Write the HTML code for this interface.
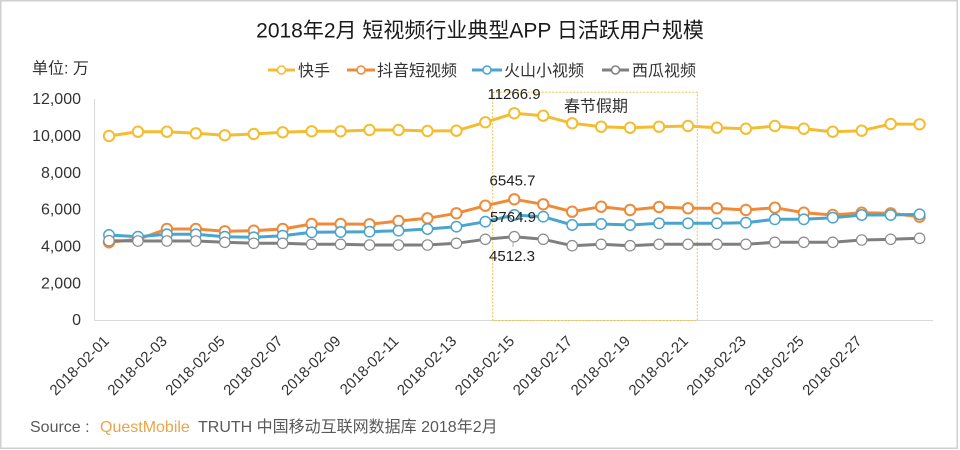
<!DOCTYPE html>
<html><head><meta charset="utf-8"><style>
html,body{margin:0;padding:0;background:#fff;}
svg{display:block;}
</style></head><body>
<svg width="960" height="450" viewBox="0 0 960 450" xmlns="http://www.w3.org/2000/svg" font-family="'Liberation Sans','Noto Sans CJK SC',sans-serif">
<defs>
<marker id="mY" viewBox="-7 -7 14 14" markerWidth="14" markerHeight="14" refX="0" refY="0" markerUnits="userSpaceOnUse"><circle r="5.2" fill="#fff" stroke="#F3BD2F" stroke-width="2"/></marker>
<marker id="mO" viewBox="-7 -7 14 14" markerWidth="14" markerHeight="14" refX="0" refY="0" markerUnits="userSpaceOnUse"><circle r="5.2" fill="#fff" stroke="#EE8B3A" stroke-width="2"/></marker>
<marker id="mB" viewBox="-7 -7 14 14" markerWidth="14" markerHeight="14" refX="0" refY="0" markerUnits="userSpaceOnUse"><circle r="5.2" fill="#fff" stroke="#4AA5CE" stroke-width="1.5"/></marker>
<marker id="mG" viewBox="-7 -7 14 14" markerWidth="14" markerHeight="14" refX="0" refY="0" markerUnits="userSpaceOnUse"><circle r="5.2" fill="#fff" stroke="#8a8a8a" stroke-width="1.2"/></marker>
</defs>
<rect x="0" y="0" width="960" height="450" fill="#fff"/>
<rect x="0.75" y="0.75" width="956.5" height="447.5" fill="none" stroke="#cfcfcf" stroke-width="1.5"/>

<text x="480" y="37.5" text-anchor="middle" font-size="21" fill="#1a1a1a">2018年2月 短视频行业典型APP 日活跃用户规模</text>

<text x="32" y="73.5" font-size="16" fill="#333">单位: 万</text>

<!-- legend -->
<g font-size="16" fill="#333">
<line x1="268" y1="70" x2="295" y2="70" stroke="#F3BD2F" stroke-width="3"/><circle cx="281.5" cy="70" r="4" fill="#fff" stroke="#F3BD2F" stroke-width="1.5"/>
<text x="298" y="76">快手</text>
<line x1="347" y1="70" x2="375" y2="70" stroke="#EE8B3A" stroke-width="3"/><circle cx="361" cy="70" r="4" fill="#fff" stroke="#EE8B3A" stroke-width="1.5"/>
<text x="377" y="76">抖音短视频</text>
<line x1="472" y1="70" x2="502" y2="70" stroke="#4AA5CE" stroke-width="3"/><circle cx="487" cy="70" r="4" fill="#fff" stroke="#4AA5CE" stroke-width="1.5"/>
<text x="504" y="76">火山小视频</text>
<line x1="602" y1="70" x2="629" y2="70" stroke="#7F7F7F" stroke-width="3"/><circle cx="615.5" cy="70" r="4" fill="#fff" stroke="#7F7F7F" stroke-width="1.5"/>
<text x="632" y="76">西瓜视频</text>
</g>

<!-- axes -->
<line x1="94.5" y1="99" x2="94.5" y2="320" stroke="#d9d9d9" stroke-width="1"/>
<line x1="94" y1="320.5" x2="933" y2="320.5" stroke="#d9d9d9" stroke-width="1"/>

<g font-size="16" fill="#333" text-anchor="end">
<text x="81" y="325.2">0</text>
<text x="81" y="288.4">2,000</text>
<text x="81" y="251.5">4,000</text>
<text x="81" y="214.7">6,000</text>
<text x="81" y="177.9">8,000</text>
<text x="81" y="141">10,000</text>
<text x="81" y="104.2">12,000</text>
</g>

<!-- holiday box -->
<rect x="492.7" y="92.3" width="204.6" height="228.2" fill="none" stroke="#F0C24A" stroke-width="1" stroke-dasharray="2,1.5"/>
<text x="564" y="111.5" font-size="16" fill="#333">春节假期</text>

<!-- series -->
<polyline fill="none" stroke="#F3BD2F" stroke-width="3" stroke-linejoin="round" marker-start="url(#mY)" marker-mid="url(#mY)" marker-end="url(#mY)" points="109,136 137.95,131.7 166.9,131.7 195.85,133.3 224.8,135.3 253.75,134 282.7,132.3 311.65,131.3 340.6,131.3 369.55,130 398.5,130 427.45,131 456.4,130.7 485.35,122.3 514.3,113.3 543.25,115.7 572.2,123.3 601.15,126.7 630.1,127.7 659.05,126.7 688,126 716.95,127.7 745.9,128.7 774.85,126 803.8,128.7 832.75,131.7 861.7,130.7 890.65,124 919.6,124.3"/>
<polyline fill="none" stroke="#EE8B3A" stroke-width="3" stroke-linejoin="round" marker-start="url(#mO)" marker-mid="url(#mO)" marker-end="url(#mO)" points="109,242.3 137.95,239.3 166.9,229 195.85,229 224.8,231.3 253.75,230.7 282.7,229 311.65,224 340.6,224 369.55,224.3 398.5,221 427.45,218.3 456.4,213.3 485.35,205.7 514.3,199.3 543.25,204.3 572.2,211.7 601.15,206.7 630.1,210 659.05,207 688,208.3 716.95,208.3 745.9,210 774.85,207.7 803.8,212.7 832.75,215 861.7,212.7 890.65,213.3 919.6,216.7"/>
<polyline fill="none" stroke="#4AA5CE" stroke-width="3" stroke-linejoin="round" marker-start="url(#mB)" marker-mid="url(#mB)" marker-end="url(#mB)" points="109,235 137.95,236.7 166.9,234.3 195.85,234.3 224.8,236.7 253.75,237.3 282.7,235.7 311.65,232.3 340.6,232 369.55,231.7 398.5,230.7 427.45,229 456.4,226.7 485.35,221.7 514.3,215 543.25,216.7 572.2,225 601.15,224 630.1,225 659.05,223.3 688,223.3 716.95,223.3 745.9,222.7 774.85,219.3 803.8,219.3 832.75,217.7 861.7,215 890.65,215 919.6,214.3"/>
<polyline fill="none" stroke="#7F7F7F" stroke-width="3" stroke-linejoin="round" marker-start="url(#mG)" marker-mid="url(#mG)" marker-end="url(#mG)" points="109,240.7 137.95,241 166.9,241 195.85,241 224.8,242.3 253.75,243.3 282.7,243.3 311.65,244.3 340.6,244.3 369.55,245 398.5,245 427.45,245 456.4,243.3 485.35,239.3 514.3,236.7 543.25,239.3 572.2,245.7 601.15,244.3 630.1,245.7 659.05,244.3 688,244.3 716.95,244.3 745.9,244.3 774.85,242.3 803.8,242.3 832.75,242.3 861.7,240 890.65,239.3 919.6,238.3"/>

<!-- data labels -->
<g font-size="15" fill="#222" text-anchor="middle">
<text x="514" y="99">11266.9</text>
<text x="512.5" y="185.5">6545.7</text>
<text x="513" y="222">5764.9</text>
<line x1="513" y1="241" x2="513" y2="247" stroke="#999" stroke-width="0.8"/>
<text x="512" y="261">4512.3</text>
</g>

<!-- x labels -->
<g font-size="15" fill="#333" text-anchor="end">
<text transform="translate(110,342) rotate(-45)">2018-02-01</text>
<text transform="translate(167.9,342) rotate(-45)">2018-02-03</text>
<text transform="translate(225.8,342) rotate(-45)">2018-02-05</text>
<text transform="translate(283.7,342) rotate(-45)">2018-02-07</text>
<text transform="translate(341.6,342) rotate(-45)">2018-02-09</text>
<text transform="translate(399.5,342) rotate(-45)">2018-02-11</text>
<text transform="translate(457.4,342) rotate(-45)">2018-02-13</text>
<text transform="translate(515.3,342) rotate(-45)">2018-02-15</text>
<text transform="translate(573.2,342) rotate(-45)">2018-02-17</text>
<text transform="translate(631.1,342) rotate(-45)">2018-02-19</text>
<text transform="translate(689,342) rotate(-45)">2018-02-21</text>
<text transform="translate(746.9,342) rotate(-45)">2018-02-23</text>
<text transform="translate(804.8,342) rotate(-45)">2018-02-25</text>
<text transform="translate(862.7,342) rotate(-45)">2018-02-27</text>
</g>

<!-- source -->
<text y="432" font-size="16" fill="#595959"><tspan x="30">Source :</tspan><tspan x="100" fill="#E9A54B">QuestMobile</tspan><tspan x="198">TRUTH 中国移动互联网数据库 2018年2月</tspan></text>
</svg>
</body></html>
